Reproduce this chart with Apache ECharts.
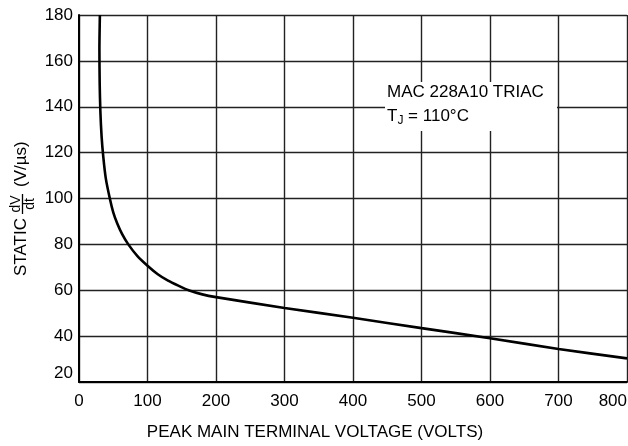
<!DOCTYPE html>
<html>
<head>
<meta charset="utf-8">
<script src="https://cdn.jsdelivr.net/npm/echarts@6/dist/echarts.min.js"></script>
<style>html,body{margin:0;padding:0;background:#fff}#c{width:628px;height:446px}</style>
</head>
<body>
<div id="c"></div>
<script>
var xTicks = [0, 100, 200, 300, 400, 500, 600, 700, 800];
var yTicks = [20, 40, 60, 80, 100, 120, 140, 160, 180];
var voltage = [30.5, 29.8, 30.2, 31.2, 33, 35.5, 39, 45, 50, 56, 63, 72, 85, 100, 115, 130, 145, 160, 180, 200, 300, 400, 500, 600, 700, 800];
var dvdt    = [180, 165, 150, 138, 127, 118, 109, 100, 94, 89, 84.5, 80, 75, 70.7, 67, 64.2, 62, 60, 58.2, 57, 52.3, 48, 43.5, 39.1, 34.4, 30.3];
var xTitle = 'PEAK MAIN TERMINAL VOLTAGE (VOLTS)';
var noteLines = ['MAC 228A10 TRIAC', 'T', 'J', ' = 110°C'];

var FONT = '"Liberation Sans", Arial, sans-serif';
var chart = echarts.init(document.getElementById('c'), null, {renderer: 'canvas'});
var pts = voltage.map(function (v, i) { return [v, dvdt[i]]; });

chart.setOption({
  animation: false,
  backgroundColor: '#fff',
  grid: {left: 79, top: 15, right: 1, bottom: 64, containLabel: false, outerBoundsMode: 'none'},
  xAxis: {
    type: 'value', min: xTicks[0], max: xTicks[xTicks.length - 1], interval: 100,
    axisLine: {show: true, onZero: false, lineStyle: {color: '#000', width: 2}},
    axisTick: {show: false},
    axisLabel: {color: '#000', fontFamily: FONT, fontSize: 17, margin: 11, alignMaxLabel: 'right'},
    splitLine: {show: true, lineStyle: {color: '#222', width: 1.4}}
  },
  yAxis: {
    type: 'value', min: yTicks[0], max: yTicks[yTicks.length - 1], interval: 20,
    axisLine: {show: true, lineStyle: {color: '#000', width: 2}},
    axisTick: {show: false},
    axisLabel: {color: '#000', fontFamily: FONT, fontSize: 17, margin: 6, verticalAlignMinLabel: 'bottom'},
    splitLine: {show: true, lineStyle: {color: '#222', width: 1.4}}
  },
  series: [{
    type: 'line', data: pts, smooth: 0.25, showSymbol: false,
    lineStyle: {color: '#000', width: 2.6}, z: 5
  }],
  graphic: [
    {type: 'rect', shape: {x: 385, y: 82, width: 172, height: 49}, style: {fill: '#fff'}, z: 10},
    {type: 'text', x: 387, y: 92, z: 11, style: {text: noteLines[0], fontFamily: FONT, fontSize: 17, fill: '#000', verticalAlign: 'middle'}},
    {type: 'text', x: 387, y: 116, z: 11, style: {
      text: '{a|' + noteLines[1] + '}{b|' + noteLines[2] + '}{a|' + noteLines[3] + '}',
      rich: {a: {fontFamily: FONT, fontSize: 17, fill: '#000'}, b: {fontFamily: FONT, fontSize: 12, fill: '#000', padding: [9, 0, 0, 0]}},
      verticalAlign: 'middle'}},
    {type: 'text', x: 315, y: 432, z: 11, style: {text: xTitle, fontFamily: FONT, fontSize: 17, fill: '#000', align: 'center', verticalAlign: 'middle'}},
    {type: 'group', x: 21, y: 204, rotation: Math.PI / 2, z: 11, children: [
      {type: 'text', x: -14, y: 0, style: {text: 'STATIC', fontFamily: FONT, fontSize: 17, fill: '#000', align: 'right', verticalAlign: 'middle'}},
      {type: 'text', x: 0, y: -5, style: {text: 'dV', fontFamily: FONT, fontSize: 14, fill: '#000', align: 'center', verticalAlign: 'middle'}},
      {type: 'line', shape: {x1: -10, y1: 1.5, x2: 10, y2: 1.5}, style: {stroke: '#000', lineWidth: 1.3}},
      {type: 'text', x: 0, y: 9, style: {text: 'dt', fontFamily: FONT, fontSize: 14, fill: '#000', align: 'center', verticalAlign: 'middle'}},
      {type: 'text', x: 17, y: 0, style: {text: '(V/µs)', fontFamily: FONT, fontSize: 17, fill: '#000', align: 'left', verticalAlign: 'middle'}}
    ]}
  ]
});
</script>
</body>
</html>
